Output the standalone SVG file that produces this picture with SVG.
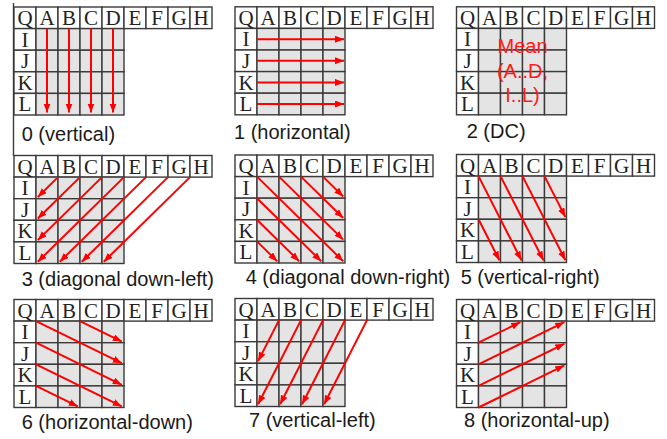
<svg xmlns="http://www.w3.org/2000/svg" xmlns:xlink="http://www.w3.org/1999/xlink" width="667" height="439" viewBox="0 0 667 439">
<style>
.hc{fill:#ffffff;stroke:#3a3a3a;stroke-width:1.4}
.gc{fill:#e4e4e4;stroke:#3a3a3a;stroke-width:1.4}
.lt{font-family:"Liberation Serif","Times New Roman",serif;font-size:21px;fill:#222;text-anchor:middle}
.lab{font-family:"Liberation Sans",Arial,sans-serif;font-size:20px;fill:#1a1a1a}
.mean{font-family:"Liberation Sans",Arial,sans-serif;font-size:20px;fill:#ff1a1a;text-anchor:middle}
.arr{stroke:#ff0000;stroke-width:2;fill:none;marker-end:url(#ah)}
</style>
<defs>
<marker id="ah" markerUnits="userSpaceOnUse" markerWidth="10" markerHeight="8" refX="9" refY="3.5" orient="auto">
<path d="M0,0 L9,3.5 L0,7 z" fill="#ff0000"/>
</marker>
<g id="grid">
<rect class="hc" x="0" y="0" width="22" height="21.6"/>
<rect class="hc" x="22" y="0" width="22" height="21.6"/>
<rect class="hc" x="44" y="0" width="22" height="21.6"/>
<rect class="hc" x="66" y="0" width="22" height="21.6"/>
<rect class="hc" x="88" y="0" width="22" height="21.6"/>
<rect class="hc" x="110" y="0" width="22" height="21.6"/>
<rect class="hc" x="132" y="0" width="22" height="21.6"/>
<rect class="hc" x="154" y="0" width="22" height="21.6"/>
<rect class="hc" x="176" y="0" width="22" height="21.6"/>
<rect class="hc" x="0" y="21.6" width="22" height="21.6"/>
<rect class="hc" x="0" y="43.2" width="22" height="21.6"/>
<rect class="hc" x="0" y="64.8" width="22" height="21.6"/>
<rect class="hc" x="0" y="86.4" width="22" height="21.6"/>
<rect class="gc" x="22" y="21.6" width="22" height="21.6"/>
<rect class="gc" x="44" y="21.6" width="22" height="21.6"/>
<rect class="gc" x="66" y="21.6" width="22" height="21.6"/>
<rect class="gc" x="88" y="21.6" width="22" height="21.6"/>
<rect class="gc" x="22" y="43.2" width="22" height="21.6"/>
<rect class="gc" x="44" y="43.2" width="22" height="21.6"/>
<rect class="gc" x="66" y="43.2" width="22" height="21.6"/>
<rect class="gc" x="88" y="43.2" width="22" height="21.6"/>
<rect class="gc" x="22" y="64.8" width="22" height="21.6"/>
<rect class="gc" x="44" y="64.8" width="22" height="21.6"/>
<rect class="gc" x="66" y="64.8" width="22" height="21.6"/>
<rect class="gc" x="88" y="64.8" width="22" height="21.6"/>
<rect class="gc" x="22" y="86.4" width="22" height="21.6"/>
<rect class="gc" x="44" y="86.4" width="22" height="21.6"/>
<rect class="gc" x="66" y="86.4" width="22" height="21.6"/>
<rect class="gc" x="88" y="86.4" width="22" height="21.6"/>
<text class="lt" x="11" y="18">Q</text>
<text class="lt" x="33" y="18">A</text>
<text class="lt" x="55" y="18">B</text>
<text class="lt" x="77" y="18">C</text>
<text class="lt" x="99" y="18">D</text>
<text class="lt" x="121" y="18">E</text>
<text class="lt" x="143" y="18">F</text>
<text class="lt" x="165" y="18">G</text>
<text class="lt" x="187" y="18">H</text>
<text class="lt" x="11" y="39.6">I</text>
<text class="lt" x="11" y="61.2">J</text>
<text class="lt" x="11" y="82.8">K</text>
<text class="lt" x="11" y="104.4">L</text>
</g>
</defs>
<rect width="667" height="439" fill="#ffffff"/>
<line x1="13.5" y1="3" x2="13.5" y2="156" stroke="#3a3a3a" stroke-width="1.4"/>

<g id="mode0" transform="translate(14,7)">
<use xlink:href="#grid"/>
<g class="connectors">
<line class="arr" x1="33" y1="21.6" x2="33" y2="105.5"/>
<line class="arr" x1="55" y1="21.6" x2="55" y2="105.5"/>
<line class="arr" x1="77" y1="21.6" x2="77" y2="105.5"/>
<line class="arr" x1="99" y1="21.6" x2="99" y2="105.5"/>
</g>
</g>
<text class="lab" x="21.7" y="141">0 (vertical)</text>

<g id="mode1" transform="translate(235,6.8)">
<use xlink:href="#grid"/>
<g class="connectors">
<line class="arr" x1="22" y1="32.4" x2="109" y2="32.4"/>
<line class="arr" x1="22" y1="54" x2="109" y2="54"/>
<line class="arr" x1="22" y1="75.6" x2="109" y2="75.6"/>
<line class="arr" x1="22" y1="97.2" x2="109" y2="97.2"/>
</g>
</g>
<text class="lab" x="234" y="139">1 (horizontal)</text>

<g id="mode2" transform="translate(456.5,6.8)">
<use xlink:href="#grid"/>
<text class="mean" x="66" y="46.5">Mean</text>
<text class="mean" x="66" y="71.2">(A..D,</text>
<text class="mean" x="66" y="95">I..L)</text>
</g>
<text class="lab" x="466.7" y="137.5">2 (DC)</text>

<g id="mode3" transform="translate(14,155.5)">
<use xlink:href="#grid"/>
<g class="connectors">
<line class="arr" x1="44" y1="21.6" x2="23.8" y2="41.45"/>
<line class="arr" x1="66" y1="21.6" x2="23.8" y2="63.05"/>
<line class="arr" x1="88" y1="21.6" x2="23.8" y2="84.65"/>
<line class="arr" x1="110" y1="21.6" x2="23.8" y2="106.25"/>
<line class="arr" x1="132" y1="21.6" x2="45.8" y2="106.25"/>
<line class="arr" x1="154" y1="21.6" x2="67.8" y2="106.25"/>
<line class="arr" x1="176" y1="21.6" x2="89.8" y2="106.25"/>
</g>
</g>
<text class="lab" x="21.7" y="286">3 (diagonal down-left)</text>

<g id="mode4" transform="translate(235,155)">
<use xlink:href="#grid"/>
<g class="connectors">
<line class="arr" x1="22" y1="21.6" x2="108.2" y2="106.25"/>
<line class="arr" x1="44" y1="21.6" x2="108.2" y2="84.65"/>
<line class="arr" x1="66" y1="21.6" x2="108.2" y2="63.05"/>
<line class="arr" x1="88" y1="21.6" x2="108.2" y2="41.45"/>
<line class="arr" x1="22" y1="43.2" x2="86.2" y2="106.25"/>
<line class="arr" x1="22" y1="64.8" x2="64.2" y2="106.25"/>
<line class="arr" x1="22" y1="86.4" x2="42.2" y2="106.25"/>
</g>
</g>
<text class="lab" x="245.7" y="284">4 (diagonal down-right)</text>

<g id="mode5" transform="translate(456.5,154.5)">
<use xlink:href="#grid"/>
<g class="connectors">
<line class="arr" x1="22" y1="21.6" x2="64.9" y2="105.8"/>
<line class="arr" x1="44" y1="21.6" x2="86.9" y2="105.8"/>
<line class="arr" x1="66" y1="21.6" x2="108.9" y2="105.8"/>
<line class="arr" x1="88" y1="21.6" x2="108.9" y2="62.6"/>
<line class="arr" x1="22" y1="64.8" x2="42.9" y2="105.8"/>
</g>
</g>
<text class="lab" x="460.7" y="284">5 (vertical-right)</text>

<g id="mode6" transform="translate(14,299.5)">
<use xlink:href="#grid"/>
<g class="connectors">
<line class="arr" x1="22" y1="21.6" x2="107.8" y2="63.7"/>
<line class="arr" x1="66" y1="21.6" x2="107.8" y2="42.1"/>
<line class="arr" x1="22" y1="43.2" x2="107.8" y2="85.3"/>
<line class="arr" x1="22" y1="64.8" x2="107.8" y2="106.9"/>
<line class="arr" x1="22" y1="86.4" x2="63.8" y2="106.9"/>
</g>
</g>
<text class="lab" x="21.7" y="429">6 (horizontal-down)</text>

<g id="mode7" transform="translate(235,298.5)">
<use xlink:href="#grid"/>
<g class="connectors">
<line class="arr" x1="44" y1="21.6" x2="23.1" y2="62.6"/>
<line class="arr" x1="66" y1="21.6" x2="23.1" y2="105.8"/>
<line class="arr" x1="88" y1="21.6" x2="45.1" y2="105.8"/>
<line class="arr" x1="110" y1="21.6" x2="67.1" y2="105.8"/>
<line class="arr" x1="132" y1="21.6" x2="89.1" y2="105.8"/>
</g>
</g>
<text class="lab" x="249" y="427">7 (vertical-left)</text>

<g id="mode8" transform="translate(456.5,299.5)">
<use xlink:href="#grid"/>
<g class="connectors">
<line class="arr" x1="22" y1="43.2" x2="63.8" y2="22.7"/>
<line class="arr" x1="22" y1="64.8" x2="107.8" y2="22.7"/>
<line class="arr" x1="22" y1="86.4" x2="107.8" y2="44.3"/>
<line class="arr" x1="22" y1="108" x2="107.8" y2="65.9"/>
</g>
</g>
<text class="lab" x="464" y="427.3">8 (horizontal-up)</text>
</svg>
